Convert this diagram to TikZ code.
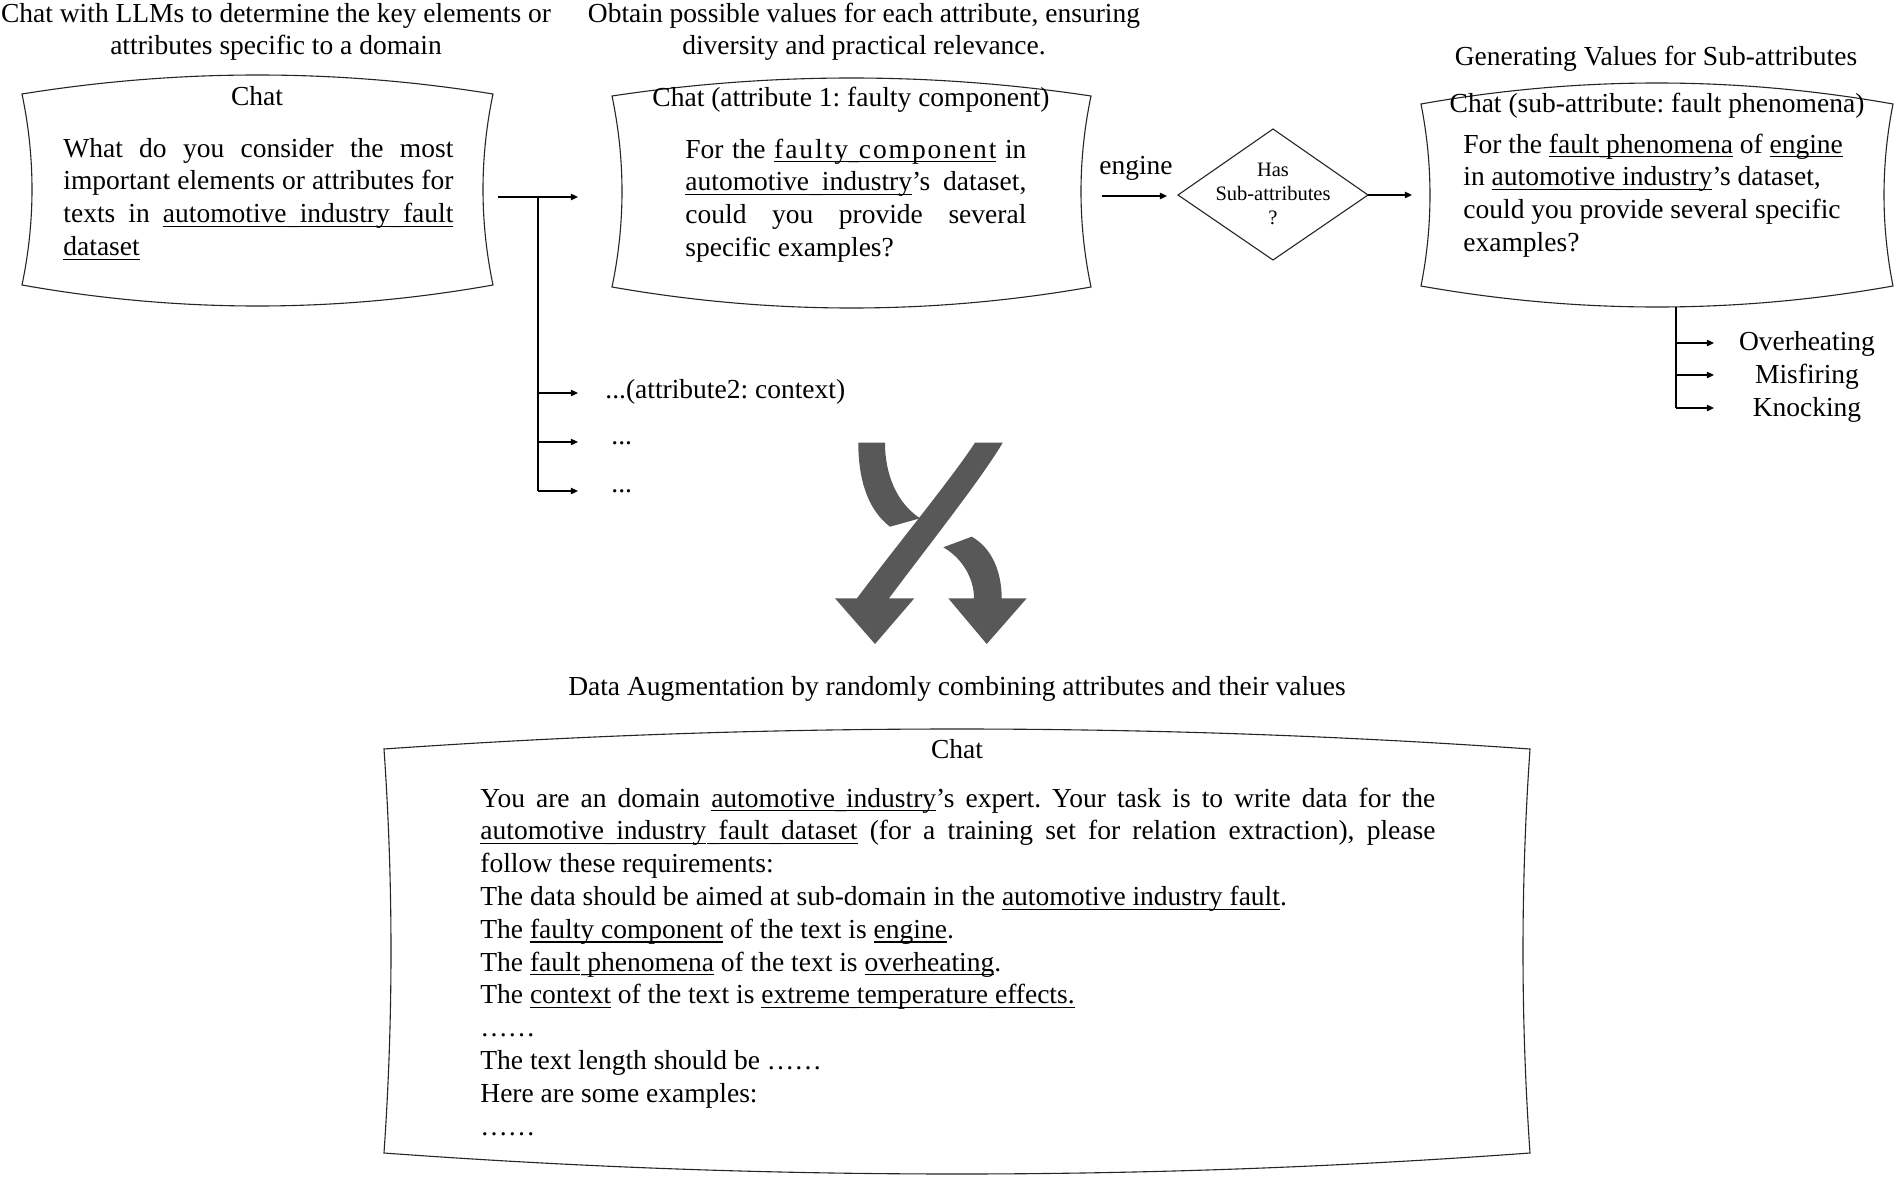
\documentclass[tikz,border=0pt]{standalone}
\usepackage{fontspec}
\setmainfont{Liberation Serif}
\usetikzlibrary{arrows.meta}
\definecolor{xgray}{RGB}{88,88,88}
\frenchspacing
\newcommand\myfs{\fontsize{13.75pt}{16.4pt}\selectfont\frenchspacing}
\newcommand\smfs{\fontsize{10.25pt}{12.25pt}\selectfont}
\newcommand\jl[1]{\hbox to \linewidth{#1}}
\newcommand\rl[1]{\hbox{#1}}
% underline helpers
\newcommand\ulrule{\vrule depth 2.2pt height -1.6pt}
\newcommand\uw[1]{\setbox0\hbox{#1}\leavevmode\rlap{\ulrule width\wd0\relax}\box0\relax}
\newcommand\ulsp{\leaders\hbox{\ulrule width 0.1pt\relax}\hskip\fontdimen2\font plus\fontdimen3\font minus\fontdimen4\font\relax}
\makeatletter
\def\myul#1{\my@ulword#1 \my@ulend}
\def\my@ulword#1 #2\my@ulend{\uw{#1}\ifx\relax#2\relax\else\ulsp\my@ulword#2\my@ulend\fi}
\makeatother
% name, x1,y1,x2,y2, top bulge, bottom bulge, side bow
\newcommand\wavebox[8]{%
  \coordinate (#1-nw) at (#2,#3);
  \coordinate (#1-ne) at (#4,#3);
  \coordinate (#1-se) at (#4,#5);
  \coordinate (#1-sw) at (#2,#5);
  \draw[boxline] (#1-nw)
     .. controls ({#2+(#4-#2)/3},{#3-4*#6/3}) and ({#4-(#4-#2)/3},{#3-4*#6/3}) .. (#1-ne)
     .. controls ({#4-4*#8/3},{#3+(#5-#3)/3}) and ({#4-4*#8/3},{#5-(#5-#3)/3}) .. (#1-se)
     .. controls ({#4-(#4-#2)/3},{#5+4*#7/3}) and ({#2+(#4-#2)/3},{#5+4*#7/3}) .. (#1-sw)
     .. controls ({#2+4*#8/3},{#5-(#5-#3)/3}) and ({#2+4*#8/3},{#3+(#5-#3)/3}) .. cycle;
}
\begin{document}
\begin{tikzpicture}[x=0.5pt,y=-0.5pt,
  boxline/.style={draw=black!85,line width=0.55pt},
  conn/.style={line width=0.8pt},
  arr/.style={conn,-{Triangle[length=3.6pt,width=3.2pt]}},
  lbl/.style={inner sep=0pt,font=\myfs},
  small/.style={inner sep=0pt,font=\smfs}]
\fill[white] (0,0) rectangle (1897,1178);
\useasboundingbox (0,0) rectangle (1897,1178);

% ---------- titles ----------
\node[lbl,anchor=base] (t1) at (276,22) {\parbox[t]{300pt}{\centering\myfs Chat with LLMs to determine the key elements or\\attributes specific to a domain}};
\node[lbl,anchor=base] (t2) at (864,22) {\parbox[t]{300pt}{\centering\myfs Obtain possible values for each attribute, ensuring\\diversity and practical relevance.}};
\node[lbl,anchor=base] (t3) at (1656,65) {Generating Values for Sub-attributes};

% ---------- box 1 ----------
\wavebox{b1}{22}{94}{493}{285}{19}{21}{10}
\node[lbl,anchor=base] (b1h) at (257,105) {Chat};
\node[lbl,anchor=base west] (b1t) at (63,157) {\parbox[t]{195pt}{\myfs
\jl{What do you consider the most}
\jl{important elements or attributes for}
\jl{texts in \myul{automotive industry fault}}
\rl{\myul{dataset}}}};

% ---------- box 2 ----------
\wavebox{b2}{612}{96}{1091}{287}{18}{21}{10}
\node[lbl,anchor=base] (b2h) at (851,106) {Chat (attribute 1: faulty component)};
\node[lbl,anchor=base west] (b2t) at (685,158) {\parbox[t]{170.5pt}{\myfs
\jl{For the {\addfontfeature{LetterSpace=7}\myul{faulty component}} in}
\jl{\myul{automotive industry}’s dataset,}
\jl{could you provide several}
\rl{specific examples?}}};

% ---------- box 3 ----------
\wavebox{b3}{1421}{104}{1893}{286}{21}{21}{9}
\node[lbl,anchor=base] (b3h) at (1657,112) {Chat (sub-attribute: fault phenomena)};
\node[lbl,anchor=base west] (b3t) at (1463,153) {\parbox[t]{200pt}{\myfs
\rl{For the \myul{fault phenomena} of \myul{engine}}
\rl{in \myul{automotive industry}’s dataset,}
\rl{could you provide several specific}
\rl{examples?}}};

% ---------- box 4 ----------
\wavebox{b4}{384}{749}{1530}{1153}{20}{21}{7}
\node[lbl,anchor=base] (b4h) at (957,758) {Chat};
\node[lbl,anchor=base west] (b4t) at (480,807) {\parbox[t]{477.5pt}{\myfs
\jl{You are an domain \myul{automotive industry}’s expert. Your task is to write data for the}
\jl{\myul{automotive industry fault dataset} (for a training set for relation extraction), please}
\rl{follow these requirements:}
\rl{The data should be aimed at sub-domain in the \myul{automotive industry fault}.}
\rl{The \myul{faulty component} of the text is \myul{engine}.}
\rl{The \myul{fault phenomena} of the text is \myul{overheating}.}
\rl{The \myul{context} of the text is \myul{extreme temperature effects.}}
\rl{……}
\rl{The text length should be ……}
\rl{Here are some examples:}
\rl{……}}};

% ---------- attribute branches ----------
\coordinate (c1s) at (498,197);
\coordinate (c1v) at (538,197);
\coordinate (c1e) at (578,197);
\coordinate (c2s) at (538,393);
\coordinate (c2e) at (578,393);
\coordinate (c3s) at (538,442);
\coordinate (c3e) at (578,442);
\coordinate (c4s) at (538,491);
\coordinate (c4e) at (578,491);
\draw[arr] (c1s) -- (c1e);
\draw[conn] (c1v) -- (c4s);
\draw[arr] (c2s) -- (c2e);
\draw[arr] (c3s) -- (c3e);
\draw[arr] (c4s) -- (c4e);
\node[lbl,anchor=base west] (a2) at (605,398) {...(attribute2: context)};
\node[lbl,anchor=base west] (a3) at (611,444) {...};
\node[lbl,anchor=base west] (a4) at (611,492) {...};

% ---------- engine / diamond ----------
\node[lbl,anchor=base] (eng) at (1136,174) {engine};
\coordinate (e1) at (1102,196);
\coordinate (e2) at (1167,196);
\draw[arr] (e1) -- (e2);
\coordinate (dl) at (1178,195);
\coordinate (dt) at (1273,129);
\coordinate (dr) at (1368,195);
\coordinate (db) at (1273,260);
\draw[boxline] (dl) -- (dt) -- (dr) -- (db) -- cycle;
\node[small,anchor=base] (dtx) at (1273,176) {\parbox[t]{80pt}{\centering\smfs Has\\Sub-attributes\\?}};
\coordinate (b3in) at (1412,195);
\draw[arr] (dr) -- (b3in);

% ---------- sub-attribute values ----------
\coordinate (v0) at (1676,307);
\coordinate (v1s) at (1676,343);
\coordinate (v1e) at (1714,343);
\coordinate (v2s) at (1676,375);
\coordinate (v2e) at (1714,375);
\coordinate (v3s) at (1676,408);
\coordinate (v3e) at (1714,408);
\draw[conn] (v0) -- (v3s);
\draw[arr] (v1s) -- (v1e);
\draw[arr] (v2s) -- (v2e);
\draw[arr] (v3s) -- (v3e);
\node[lbl,anchor=base] (o1) at (1807,350) {Overheating};
\node[lbl,anchor=base] (o2) at (1807,383) {Misfiring};
\node[lbl,anchor=base] (o3) at (1807,416) {Knocking};

% ---------- crossing arrows ----------
\fill[xgray] (858.3,442.7) -- (885,442.7)
   .. controls (885,475) and (897,503) .. (920,518.3)
   -- (890,526.7)
   .. controls (868,510) and (858.3,480) .. cycle;
\fill[xgray] (975,442.7) -- (1002.7,442.7)
   .. controls (982,478) and (925,550) .. (889,598.3)
   -- (914.3,598.3) -- (875,644) -- (835,598.3) -- (857,598.3)
   .. controls (893,550) and (952,478) .. cycle;
\fill[xgray] (943.3,547.3) -- (971.7,536.7)
   .. controls (992,548) and (1001.7,572) .. (1001.7,598.3)
   -- (1026.7,598.3) -- (986.7,644) -- (948.3,598.3) -- (974,598.3)
   .. controls (974,578) and (962,558) .. cycle;

\node[lbl,anchor=base] (aug) at (957,695) {Data Augmentation by randomly combining attributes and their values};
\end{tikzpicture}
\end{document}
